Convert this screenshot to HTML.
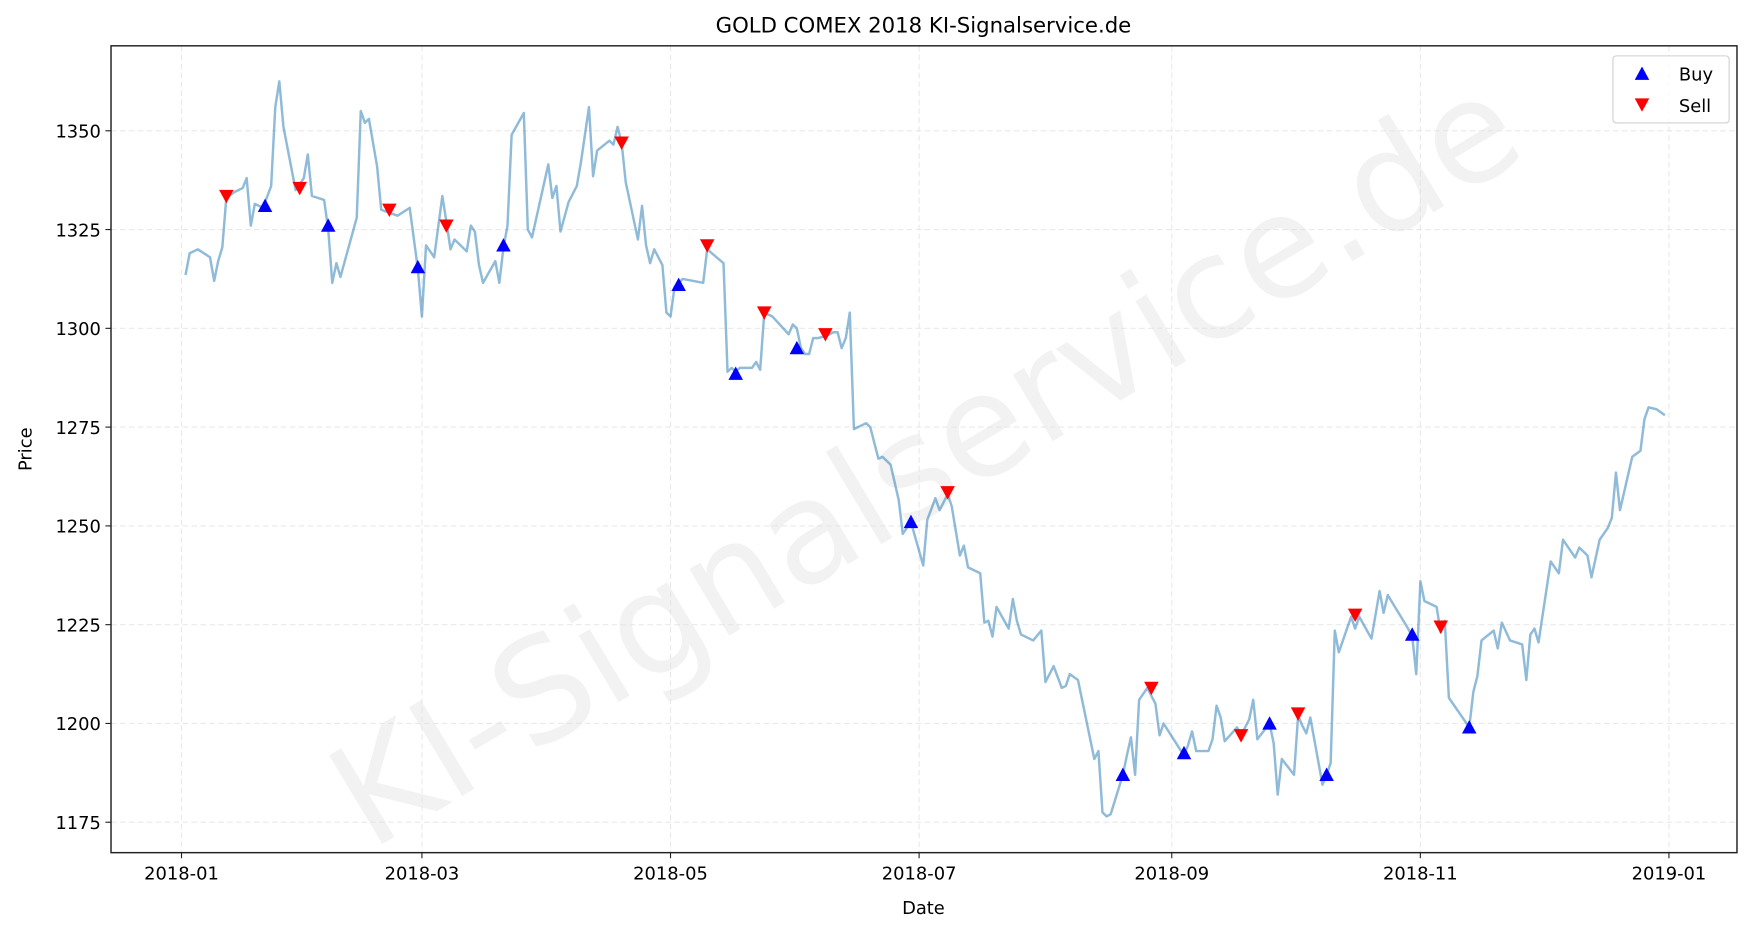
<!DOCTYPE html>
<html><head><meta charset="utf-8"><style>
html,body{margin:0;padding:0;background:#fff;}
svg{display:block;font-family:"DejaVu Sans","Liberation Sans",sans-serif;}
</style></head><body>
<svg id="chart" width="1753" height="932" viewBox="0 0 1568 834" xmlns="http://www.w3.org/2000/svg">
<rect x="0" y="0" width="1568" height="834" fill="#fff"/>
<text x="832" y="420" font-size="127" fill="#000" fill-opacity="0.05" text-anchor="middle" dominant-baseline="middle" transform="rotate(-31 832 420)">KI-Signalservice.de</text>
<g id="grid"></g>
<g id="series"></g>
<g id="markers"></g>
<rect x="99" y="41" width="1455" height="722" fill="none" stroke="#222" stroke-width="1.3"/>
<g id="axes"></g>
<text x="826" y="29" font-size="19" text-anchor="middle" fill="#000">GOLD COMEX 2018 KI-Signalservice.de</text>
<text x="826" y="818" font-size="16" text-anchor="middle" fill="#000">Date</text>
<text x="28" y="402" font-size="16" text-anchor="middle" fill="#000" transform="rotate(-90 28 402)">Price</text>
<g>
<rect x="1443" y="50" width="104" height="60" rx="3" fill="#fff" fill-opacity="0.8" stroke="#d0d0d0" stroke-width="1"/>
<polygon points="1469,59.5 1475.5,71.5 1462.5,71.5" fill="#0000ff"/>
<text x="1502" y="72" font-size="16" fill="#000">Buy</text>
<polygon points="1462.5,88 1475.5,88 1469,100" fill="#ff0000"/>
<text x="1502" y="100" font-size="16" fill="#000">Sell</text>
</g>
</svg>
<script>
const priceDays=[1,2,4,7,8,9,10,11,13,15,16,17,18,20,22,23,24,25,28,30,31,32,35,36,37,38,39,43,44,45,46,48,49,53,56,58,59,60,62,64,65,66,67,70,71,72,73,74,77,78,79,80,81,84,85,86,90,91,92,93,95,97,98,100,101,102,105,106,107,108,109,112,113,114,115,116,118,119,120,121,123,128,129,133,134,135,136,137,140,141,142,143,145,149,150,151,152,153,154,155,156,158,160,161,162,163,164,165,168,169,171,172,174,176,177,179,182,183,185,186,188,189,191,192,193,196,197,198,199,200,203,204,205,206,209,211,212,214,216,217,218,220,224,225,226,227,228,231,232,233,234,235,236,237,239,240,241,245,246,247,248,249,252,253,254,255,256,259,260,262,263,264,267,268,269,270,273,274,275,276,277,280,281,282,283,284,287,288,289,292,294,295,296,301,302,303,304,305,308,309,310,311,315,316,317,318,319,322,323,324,326,329,330,331,332,333,336,338,339,342,343,345,346,348,350,351,352,353,356,358,359,360,362,364];
const prices=[1313.5,1319,1320,1318,1312,1317,1320.5,1333,1334.5,1335.5,1338,1326,1331.5,1330.5,1336,1356,1362.5,1351,1335,1338,1344,1333.5,1332.5,1325,1311.5,1316.5,1313,1328,1355,1352,1353,1341,1330,1328.5,1330.5,1315,1303,1321,1318,1333.5,1327,1320,1322.5,1319.5,1326,1324.5,1316,1311.5,1317,1311.5,1320.5,1326,1349,1354.5,1325,1323,1341.5,1333,1336,1324.5,1332,1336,1342,1356,1338.5,1345,1347.5,1346.5,1351,1347,1337,1322.5,1331,1321,1316.5,1320,1316,1304,1303,1310.5,1312.5,1311.5,1320,1316.5,1289,1290,1289,1290,1290,1291.5,1289.5,1304,1303,1298.5,1301,1300,1295,1293.5,1293.5,1297.5,1297.5,1298,1299,1299,1295,1297.5,1304,1274.5,1276,1275,1267,1267.5,1265.5,1256.5,1248,1251,1240,1251.5,1257,1254,1258,1255,1242.5,1245,1239.5,1238,1225.5,1226,1222,1229.5,1224,1231.5,1226,1222.5,1221,1223.5,1210.5,1214.5,1209,1209.5,1212.5,1211,1191,1193,1177.5,1176.5,1177,1187,1192,1196.5,1187,1206,1207.5,1209,1205,1197,1200,1193.5,1192,1194.5,1198,1193,1193,1196,1204.5,1201.5,1195.5,1199,1197,1201,1206,1196,1200,1195,1182,1191,1187,1202,1199.5,1197.5,1201.5,1184.5,1187,1190,1223.5,1218,1227,1224,1227,1221.5,1233.5,1228,1232.5,1224,1222,1212.5,1236,1231,1229.5,1223,1226,1206.5,1200.5,1199,1208,1212,1221,1223.5,1219,1225.5,1221,1220,1211,1222.5,1224,1220.5,1241,1238,1246.5,1242,1244.5,1242.5,1237,1246.5,1249.5,1252,1263.5,1254,1267.5,1269,1277,1280,1279.5,1278];
const buyDays=[20.5,36,58,79,122,136,151,179,231,246,267,281,302,316];
const buyPrices=[1331,1326,1315.5,1321,1311,1288.5,1295,1251,1187,1192.5,1200,1187,1222.5,1199];
const sellDays=[11,29,51,65,108,129,143,158,188,238,260,274,288,309];
const sellPrices=[1333.5,1335.5,1330,1326,1347,1321,1304,1298.5,1258.5,1209,1197,1202.5,1227.5,1224.5];
const xTickDays=[0,59,120,181,243,304,365];
const xTickLabels=["2018-01","2018-03","2018-05","2018-07","2018-09","2018-11","2019-01"];
const yTicks=[1175,1200,1225,1250,1275,1300,1325,1350];

const NS="http://www.w3.org/2000/svg";
const L=99,R=1554,T=41,B=763;
const X0=-17.3,X1=381.7,Y0=1167.3,Y1=1371.5;
function xs(d){return L+(d-X0)/(X1-X0)*(R-L);}
function ys(p){return B-(p-Y0)/(Y1-Y0)*(B-T);}
function mk(tag,attrs,parent){const e=document.createElementNS(NS,tag);for(const k in attrs)e.setAttribute(k,attrs[k]);parent.appendChild(e);return e;}
const grid=document.getElementById('grid'),axes=document.getElementById('axes');
xTickDays.forEach((d,i)=>{
  const x=xs(d);
  const g=mk('line',{x1:x,x2:x,y1:T,y2:B,stroke:'#e0e0e0','stroke-width':1,'stroke-dasharray':'5,3','stroke-opacity':0.7},grid);
  
  
  const t=mk('line',{x1:x,x2:x,y1:B,y2:B+5,stroke:'#222','stroke-width':1},axes);
  
  
  const lb=mk('text',{x:x,y:B+24,'font-size':16,'text-anchor':'middle',fill:'#000'},axes);
  lb.textContent=xTickLabels[i];
  
  
});
yTicks.forEach(v=>{
  const y=ys(v);
  const g=mk('line',{x1:L,x2:R,y1:y,y2:y,stroke:'#e0e0e0','stroke-width':1,'stroke-dasharray':'5,3','stroke-opacity':0.7},grid);
  
  
  const t=mk('line',{x1:L-5,x2:L,y1:y,y2:y,stroke:'#222','stroke-width':1},axes);
  
  
  const lb=mk('text',{x:L-9,y:y+6,'font-size':16,'text-anchor':'end',fill:'#000'},axes);
  lb.textContent=v;
  
  
});
const pts=priceDays.map((d,i)=>xs(d).toFixed(1)+','+ys(prices[i]).toFixed(1)).join(' ');
const line=mk('polyline',{points:pts,fill:'none',stroke:'#1f77b4','stroke-opacity':0.5,'stroke-width':2.2,'stroke-linejoin':'round'},document.getElementById('series'));


const mg=document.getElementById('markers');
buyDays.forEach((d,i)=>{
  const x=xs(d),y=ys(buyPrices[i]);
  const p=mk('polygon',{points:`${x},${y-6.5} ${x+6.5},${y+5.5} ${x-6.5},${y+5.5}`,fill:'#0000ff'},mg);
  
  
});
sellDays.forEach((d,i)=>{
  const x=xs(d),y=ys(sellPrices[i]);
  const p=mk('polygon',{points:`${x-6.5},${y-5.5} ${x+6.5},${y-5.5} ${x},${y+6.5}`,fill:'#ff0000'},mg);
  
  
});
</script>
</body></html>
